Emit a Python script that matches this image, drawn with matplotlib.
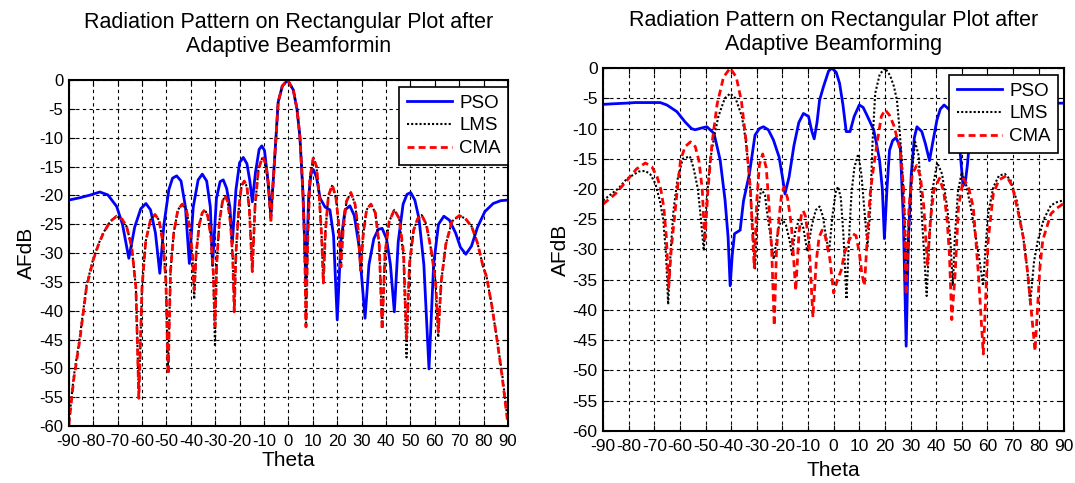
#!/usr/bin/env python3
# -*- coding: utf-8 -*-

import matplotlib
matplotlib.use('Agg')  # noqa: E402
import matplotlib.pyplot as plt  # noqa: E402

plt.rcParams['font.family'] = ['Liberation Sans', 'DejaVu Sans']
plt.rcParams['axes.unicode_minus'] = False  # MATLAB 처럼 '-' 하이픈 사용

# ====== 데이터 ======
TICKS_X = list(range(-90, 91, 10))
TICKS_Y = list(range(-60, 1, 5))
SERIES_NAMES = ['PSO', 'LMS', 'CMA']

# --- 왼쪽 그래프 ---
left_theta_pso = [
    -90, -85.5, -81, -77.3, -74, -70.4, -68, -65.4, -63, -60.5, -58.4, -56.5, -54.5, -52.7,
    -51, -49, -47.5, -45.8, -44, -42.2, -40.6, -39, -37, -35.3, -33.5, -32, -31.1, -29.5,
    -28, -26.7, -25.3, -24, -23, -21.5, -20, -18.5, -17, -15.8, -14.8, -13.5, -12, -10.9,
    -9.8, -8.5, -7.2, -6, -4.2, -2.5, -0.3, 2.0, 3.5, 4.7, 6, 7.2, 8.3, 9.3, 10.2, 11.5,
    13, 15, 17, 18.5, 20, 21.5, 23.2, 25.2, 27, 29, 31.4, 33, 35, 36.8, 38.4, 40.2, 41.8,
    43.4, 45, 47, 48.6, 50.1, 51.8, 53.5, 55.5, 57.6, 59.5, 61.5, 63.7, 66, 68.5, 70.5,
    72.7, 75, 77.5, 80.5, 83.9, 87, 90,
]
left_pso = [
    -20.8, -20.4, -19.9, -19.4, -19.9, -21.9, -25, -30.9, -25.5, -22.3, -21.4, -22.5, -26.5, -33.5,
    -25, -19, -17.0, -16.6, -17.5, -22, -31.8, -22, -17.3, -16.3, -17.5, -22, -32.1, -20.5,
    -17.6, -17.3, -18.8, -22, -28.3, -19, -14.3, -13.4, -14.5, -17.5, -21.1, -16, -12, -11.4,
    -12.2, -17, -23.5, -16, -3.8, -1, 0, -1.7, -5, -9.8, -20, -35, -20, -16.2, -15.5, -16.8,
    -20.5, -22, -22.5, -27, -41.6, -28, -22.5, -21.8, -23.5, -29, -41.3, -32, -27.5, -25.9, -25.7, -27.5, -32,
    -40.2, -28, -21.5, -19.8, -19.5, -20.8, -24, -32, -50.1, -32, -25, -23.6, -24.3, -26.5, -29,
    -30.2, -28.8, -25.5, -22.8, -21.4, -20.9, -20.8,
]
left_theta_cma = [
    -90, -88, -85.5, -82.7, -80, -77.8, -75.9, -73, -70.4, -68.2, -66.3, -64.2, -62.5, -61.3,
    -60, -58.5, -56.5, -54.7, -53, -51.3, -50.2, -49.3, -48.3, -47, -45.3, -43.5, -41.8, -40.3,
    -39.3, -38.6, -37.8, -36.5, -35.3, -34.2, -33.1, -31.8, -30.8, -30.1, -29.4, -28.3, -27, -26,
    -24.9, -23.7, -22.8, -22.2, -21.5, -20.3, -19.2, -18.1, -17, -16, -14.8, -13.7, -12.3, -10.6,
    -9.3, -8.2, -7.2, -6, -4.2, -2.5, -0.3, 2.0, 3.5, 4.7, 5.8, 6.6, 7.2, 7.9, 8.8, 10.2,
    11.5, 12.6, 13.6, 14.3, 15.2, 16.4, 18.0, 19.5, 20.6, 21.5, 22.5, 23.8, 25.6, 27.3, 28.6, 29.6,
    30.6, 32, 33.8, 35.6, 37.2, 38.4, 39.6, 41.3, 43.4, 45.4, 47.2, 48.4, 49.6, 51.3, 53, 54.6,
    56.5, 58.5, 60.3, 61.4, 62.6, 64.5, 67, 70.0, 72.5, 75.1, 77.5, 79.8, 81.2, 83.3, 85.3, 87.6,
    89.8,
]
left_cma = [
    -59.9, -52, -45.1, -35.8, -31.2, -28.5, -26.6, -24.5, -23.6, -24.1, -25.4, -29, -36, -55.2,
    -36, -28, -24.2, -23.3, -24.3, -28.5, -35, -51.1, -33, -26.5, -22.5, -21.5, -22.5, -26,
    -30.5, -36.4, -30, -25, -23, -22.5, -23.5, -27, -33, -42.7, -32, -24.5, -21, -20.1,
    -21, -25, -31, -40.2, -30, -22, -18.3, -17.5, -18.5, -22.5, -33.2, -22, -15.5, -13.3,
    -14.5, -18, -24.6, -16, -3.8, -1, 0, -1.7, -5, -9.8, -18, -28, -42.8, -28, -17, -13.4,
    -15, -20, -27, -35.2, -26, -20, -18.2, -20.5, -25, -32.4, -25.5, -21, -19.5, -21.5, -26, -33,
    -27, -22.5, -21.5, -23, -28.5, -43.3, -30, -24.5, -22.5, -24, -30, -44.9, -32, -26, -24, -23.4,
    -25, -29.5, -35, -43.6, -35, -28.5, -24.5, -23.5, -24, -25.4, -28.3, -32.4, -34.1, -39, -44.5, -51.5,
    -59.2,
]
left_lms = [
    -59.5, -51.5, -44.6, -35.5, -31.0, -28.4, -26.5, -24.5, -23.6, -24.1, -25.4, -29, -36, -55.0,
    -36, -28, -24.2, -23.3, -24.3, -28.5, -35, -50.5, -33, -26.5, -22.5, -21.5, -22.5, -26,
    -31, -38.0, -30, -25, -23, -22.5, -23.5, -27, -34, -46.2, -32, -24.5, -21, -20.1,
    -21, -25, -31, -40.0, -30, -22, -18.3, -17.5, -18.5, -22.5, -33.2, -22, -15.5, -13.3,
    -14.5, -18, -24.6, -16, -3.8, -1, 0, -1.7, -5, -9.8, -18, -28, -42.5, -28, -17, -13.4,
    -15, -20, -27, -35.0, -26, -20, -18.2, -20.5, -25, -32.4, -25.5, -21, -19.5, -21.5, -26, -33,
    -27, -22.5, -21.5, -23, -28.5, -43.0, -30, -24.5, -22.5, -24, -31, -48.1, -32, -26, -24, -23.4,
    -25, -29.5, -35, -44.6, -35, -28.5, -24.5, -23.5, -24, -25.4, -28.3, -32.4, -34.1, -39, -44.5, -51.0,
    -58.8,
]

# --- 오른쪽 그래프 ---
right_theta_pso = [
    -90, -86, -81, -77.5, -72, -67.7, -65.1, -61.2, -58, -55.5, -54.1, -51.5, -49.5, -46.7,
    -44.3, -42.4, -41.2, -40.4, -39.6, -38.7, -36.5, -35.2, -32.9, -30.7, -29, -27.4, -25.5, -23.5,
    -21.3, -20, -19, -17.4, -15.5, -13.6, -11.8, -9.8, -8.5, -7.6, -6.5, -5.5, -4, -2,
    -0.7, 1, 2.3, 3.6, 4.9, 6.4, 8, 10.0, 11.5, 13.0, 15.6, 16.5, 17.9, 19.0,
    19.8, 20.8, 21.8, 23, 24.3, 26.0, 27.2, 28.3, 29.2, 30.3, 31.5, 32.5, 34.4, 35.8,
    37.4, 38.8, 40.3, 41.6, 43.1, 45, 46.2, 48, 49.4, 50.5, 51.5, 52.2, 53.5, 55,
    58, 65, 75, 86.5, 90,
]
right_pso = [
    -6.0, -5.9, -5.8, -5.7, -5.7, -5.7, -6.1, -7.2, -8.9, -10.0, -10.2, -9.9, -9.7, -10.8,
    -15.2, -21.8, -28, -36.0, -31, -27.4, -26.8, -22, -17.5, -11.1, -10.0, -9.7, -10.2, -11.9,
    -14.7, -18, -20.8, -18, -12.8, -9, -7.5, -8.0, -10.5, -11.7, -9, -5.3, -3.1, -0.5,
    0, -0.7, -2.5, -6, -10.5, -10.5, -8, -6.1, -6.5, -7.8, -10.2, -12, -15.2, -20,
    -28.2, -20, -13.6, -12, -11.5, -13.0, -25, -46, -28, -17.5, -11.5, -9.7, -10.5, -12.5,
    -15.3, -12, -8.6, -6.8, -6.1, -6.8, -7.8, -10.5, -14.1, -19.5, -18.5, -16, -10, -6.5,
    -5.5, -5.3, -5.3, -5.8, -5.8,
]
right_theta_cma = [
    -90, -85.2, -80.7, -77, -73.5, -71, -68.9, -67.5, -66.3, -65.3, -64.4, -63.4, -62.4, -61,
    -59.8, -58, -55.9, -54, -52.6, -51.3, -50.3, -49.1, -47.5, -45.5, -43, -40.4, -38, -36,
    -34.2, -32.5, -31.0, -30, -29, -27.7, -26.3, -25.2, -24.2, -23.2, -22.3, -21.3, -20.3, -19.4,
    -18, -16.5, -14.8, -13.5, -12.5, -11.9, -11, -9.6, -8.1, -6.8, -5.7, -4.5, -3.3, -1.5,
    0, 1.5, 2.9, 4.3, 6, 7.4, 8.7, 10, 11, 12.0, 13, 14.2, 15.2, 17.1,
    18.6, 20.1, 21.8, 23.5, 26.0, 27.3, 28.3, 29.4, 30.7, 32.4, 33.8, 35.2, 36.6, 37.8,
    39.1, 41.3, 43, 44.3, 45.2, 46.1, 47.4, 48.7, 50.6, 52.5, 54.5, 56.5, 58.4, 60.3,
    62.3, 64.5, 67.4, 69.7, 71.9, 74, 75.8, 78.6, 80.5, 81.6, 84.8, 87, 89.4, 90,
]
right_cma = [
    -22.5, -20.8, -18.6, -16.7, -15.7, -16.3, -18.0, -20, -23.0, -28, -36.3, -30, -25.8, -20,
    -15.3, -13, -12.2, -13, -15.3, -20, -28.8, -20.3, -12.5, -6, -1.5, 0, -1.5, -5.5,
    -12, -20, -33.0, -22, -16, -14.2, -16.5, -23, -30, -42.6, -30, -24.7, -20.8, -19.7,
    -21.5, -26, -36.8, -27, -24, -23.6, -24.5, -29, -41.2, -32, -28, -26.8, -27.8, -31.5,
    -37.2, -35, -33.5, -30.5, -28.5, -27.4, -27.7, -30.5, -34, -36, -29, -21, -17.5, -12,
    -8, -6.9, -7.8, -9.5, -13.6, -20, -37.5, -23, -17.5, -16.1, -17.8, -23, -32.5, -25,
    -20.3, -18.2, -20.5, -25.2, -31, -41.6, -34.1, -23, -18.3, -19.5, -23, -34.1, -47.3, -28.5,
    -20.8, -18.5, -17.8, -19.5, -23.6, -28, -34.1, -46.8, -33, -28.5, -24.1, -23.2, -22.5, -22.4,
]
right_theta_lms = [
    -90, -84, -80.7, -78.8, -76, -73.5, -71.5, -69.6, -67.8, -66.5, -65.4, -64.6, -63.6, -62.5,
    -61, -58.9, -56.1, -54.7, -53, -51.8, -50.7, -49.6, -48.2, -46.5, -45, -42.5, -40.4, -38.3,
    -35.8, -34.3, -32.9, -31.8, -30.7, -29.7, -28.3, -26.8, -26.1, -24.6, -23.4, -22.3, -21.3, -20.0,
    -18.6, -17.2, -16.2, -15.0, -13.3, -11.8, -10.3, -8.5, -7, -5.5, -4.2, -3.2, -1.8, -0.5,
    0.8, 1.7, 2.8, 3.8, 5.0, 6, 7, 8.1, 9.6, 10.8, 11.9, 13.2, 14.2, 15.2,
    16.2, 18, 20.1, 22, 23.5, 24.7, 25.7, 26.6, 27.8, 28.6, 29.6, 30.7, 31.8, 33.2,
    34.6, 36.3, 37.4, 38.5, 40.4, 42.3, 44.3, 45.5, 46.5, 47.3, 48.5, 50.0, 51.8, 53.5,
    55.5, 57, 58.3, 59.4, 60.3, 62.3, 64.5, 66.8, 69, 71.5, 74, 75.5, 76.7, 78.2,
    79.7, 82, 84.8, 87, 89.4, 90,
]
right_lms = [
    -21.9, -19.9, -18.3, -17.8, -17.1, -17.0, -17.6, -19.1, -22, -25.1, -31, -39.1, -30, -23.5,
    -18.5, -15.0, -14.6, -16.5, -20, -25, -30.2, -22, -15.2, -11, -8.0, -5, -4.2, -5,
    -8.0, -12, -18.0, -25, -33.3, -24, -20.0, -21, -23.5, -28, -31.6, -28.5, -26, -25.0,
    -26, -28.5, -31, -27, -24.8, -26.5, -30.3, -26, -23.5, -22.9, -24.5, -27.3, -30.5, -24.5,
    -20.5, -19.6, -21.5, -27.5, -38.2, -28, -20.5, -16.4, -14.2, -17.5, -23, -29.5, -24, -12,
    -4.2, -1, 0, -1.2, -3, -5.3, -10, -15.2, -25.2, -35, -25, -16.4, -12.2, -14.5,
    -25.8, -37.7, -28, -20.3, -15.6, -17.5, -23.0, -28, -36, -28, -20.5, -17.2, -19.5, -23,
    -28, -32, -36, -29, -24.1, -19.7, -17.8, -17.5, -18.5, -22, -28, -33, -39, -32,
    -28.5, -25, -22.7, -22.2, -21.9, -21.8,
]
# =======================================


def style_axes(ax, title, title_pad, tick_size, xlabel_pad):
    """MATLAB 풍 축 스타일 (안쪽 눈금, 점선 격자, 검은 테두리)."""
    ax.set_xlim(-90, 90)
    ax.set_ylim(-60, 0)
    ax.set_xticks(TICKS_X)
    ax.set_yticks(TICKS_Y)
    ax.grid(True, color='black', linestyle=(0, (3, 3)), linewidth=0.8)
    ax.set_axisbelow(True)
    ax.tick_params(direction='in', top=True, right=True, length=4,
                   labelsize=tick_size)
    ax.tick_params(axis='x', pad=6)
    ax.tick_params(axis='y', pad=4)
    for sp in ax.spines.values():
        sp.set_linewidth(1.5)
    ax.set_title(title, fontsize=15.5, pad=title_pad, linespacing=1.22)
    ax.set_xlabel('Theta', fontsize=15, labelpad=xlabel_pad)
    ax.set_ylabel('AFdB', fontsize=15, labelpad=2)


def draw_panel(ax, t_pso, pso, t_lms, lms, t_cma, cma, anchor):
    ax.plot(t_pso, pso, color='#0000ff', linewidth=2.0, label=SERIES_NAMES[0])
    ax.plot(t_lms, lms, color='black', linewidth=1.5, linestyle=(0, (1, 1)),
            label=SERIES_NAMES[1])
    ax.plot(t_cma, cma, color='#ff0000', linewidth=2.0, linestyle=(0, (2.5, 1.5)),
            label=SERIES_NAMES[2])
    leg = ax.legend(loc='upper right', bbox_to_anchor=anchor, borderaxespad=0,
                    fontsize=13.5, fancybox=False, framealpha=1, edgecolor='black',
                    handlelength=2.4, labelspacing=0.3, borderpad=0.4,
                    handletextpad=0.4)
    leg.get_frame().set_linewidth(1.2)


def main() -> None:
    fig = plt.figure(figsize=(10.75, 4.83), dpi=100)

    ax1 = fig.add_axes([0.064, 0.118, 0.4086, 0.716])
    draw_panel(ax1, left_theta_pso, left_pso, left_theta_cma, left_lms,
               left_theta_cma, left_cma, (1.0, 0.98))
    style_axes(ax1, 'Radiation Pattern on Rectangular Plot after\nAdaptive Beamformin',
               20, 12, 1)

    ax2 = fig.add_axes([0.561, 0.108, 0.429, 0.751])
    draw_panel(ax2, right_theta_pso, right_pso, right_theta_lms, right_lms,
               right_theta_cma, right_cma, (0.987, 0.981))
    style_axes(ax2, 'Radiation Pattern on Rectangular Plot after\nAdaptive Beamforming',
               13, 12.5, 5)

    fig.savefig('out.png', dpi=100)
    plt.close(fig)


if __name__ == '__main__':
    main()
